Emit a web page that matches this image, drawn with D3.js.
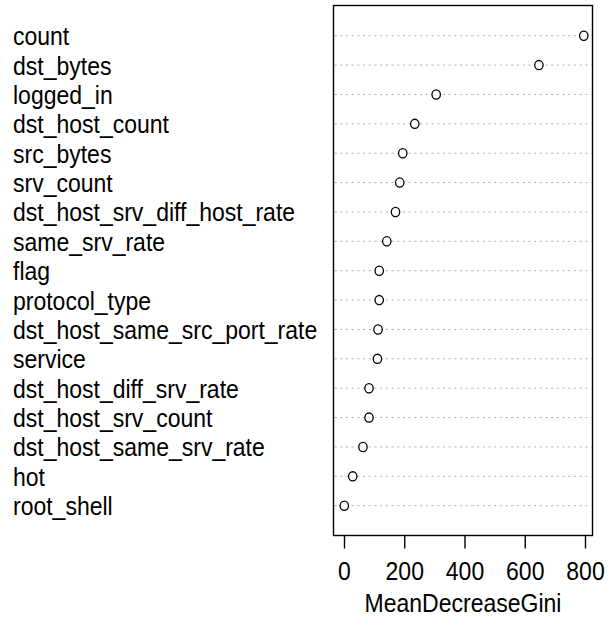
<!DOCTYPE html>
<html><head><meta charset="utf-8">
<script src="https://cdn.jsdelivr.net/npm/d3@7"></script>
<style>body{margin:0;background:#fff}svg{display:block}text{font-family:"Liberation Sans",Arial,sans-serif;fill:#000}</style>
</head><body>
<svg id="c" width="613" height="621"></svg>
<script>
const features = ["count","dst_bytes","logged_in","dst_host_count","src_bytes","srv_count","dst_host_srv_diff_host_rate","same_srv_rate","flag","protocol_type","dst_host_same_src_port_rate","service","dst_host_diff_srv_rate","dst_host_srv_count","dst_host_same_srv_rate","hot","root_shell"];
const giniValues = [796, 647, 306, 235, 195, 185, 171, 142, 117, 117, 113, 111, 83, 83, 63, 29, 1];
const xTicks = [0, 200, 400, 600, 800];
const xTitle = "MeanDecreaseGini";

const svg = d3.select("#c");
const box = {l: 333.5, r: 592.5, t: 5.5, b: 535.5};
const x = d3.scaleLinear().domain([0, 800]).range([344, 585]);
const y = d3.scalePoint().domain(features).range([35.7, 505.7]);
const sy = 1.14, fs = 23;

// gridlines
svg.append("g").selectAll("line").data(features).join("line")
  .attr("x1", box.l + 1).attr("x2", box.r - 1)
  .attr("y1", d => y(d)).attr("y2", d => y(d))
  .attr("stroke", "#b4b4b4").attr("stroke-width", 1).attr("stroke-dasharray", "2.2,3.5");

// points
svg.append("g").selectAll("ellipse").data(features).join("ellipse")
  .attr("cx", (d, i) => x(giniValues[i])).attr("cy", d => y(d))
  .attr("rx", 4.2).attr("ry", 4.6)
  .attr("fill", "#fff").attr("stroke", "#000").attr("stroke-width", 1.3);

// box
svg.append("rect").attr("x", box.l).attr("y", box.t)
  .attr("width", box.r - box.l).attr("height", box.b - box.t)
  .attr("fill", "none").attr("stroke", "#000").attr("stroke-width", 1.4);

// labels
svg.append("g").selectAll("g").data(features).join("g")
  .attr("transform", d => `translate(13,${y(d) + 9.5}) scale(1,${sy})`)
  .append("text").attr("font-size", fs).text(d => d);

// x axis
const ax = svg.append("g").attr("transform", `translate(0,${box.b})`)
  .call(d3.axisBottom(x).tickValues(xTicks).tickSize(13).tickFormat(d3.format("d")));
ax.select(".domain").remove();
ax.selectAll(".tick line").attr("stroke", "#000").attr("stroke-width", 1.4);
ax.selectAll(".tick text").remove();
ax.selectAll(".tick").append("g")
  .attr("transform", `translate(0,${580 - box.b}) scale(1,${sy})`)
  .append("text").attr("font-size", fs).attr("text-anchor", "middle")
  .style("font-family", '"Liberation Sans",Arial,sans-serif').attr("fill", "#000")
  .text(d => d);

svg.append("g").attr("transform", `translate(${(box.l + box.r) / 2},612) scale(1,${sy})`)
  .append("text").attr("font-size", fs).attr("text-anchor", "middle").text(xTitle);
</script>
</body></html>
